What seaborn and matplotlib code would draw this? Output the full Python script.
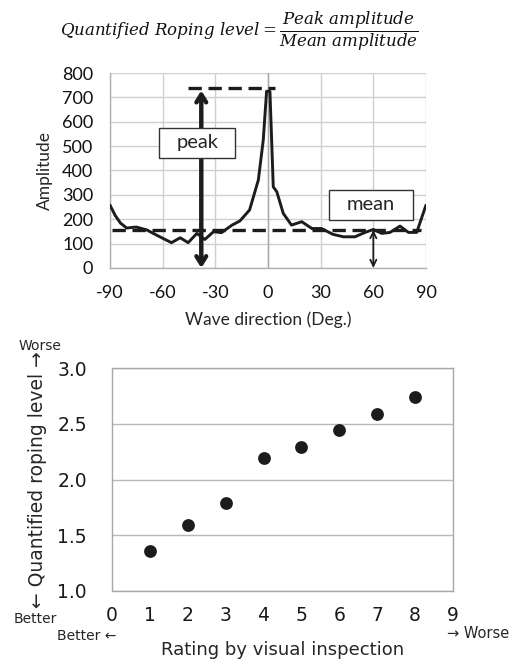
import numpy as np
import pandas as pd
import matplotlib
matplotlib.use("Agg")
import matplotlib.pyplot as plt
from matplotlib.patches import Rectangle
import seaborn as sns

# ---- data: top chart (amplitude vs wave direction) ----
direction = [-90, -87, -84, -80.5, -75, -69, -63.5, -55, -50, -45.5, -40.5, -36,
             -31, -26.5, -20.5, -16, -10.5, -5.5, -2.7, -0.8, 1.1, 3, 5, 8.7,
             13.4, 19.2, 25, 30.5, 37, 43, 49.5, 55.3, 60, 64.8, 69.5, 75.2,
             80, 84.7, 90]
amplitude = [258, 215, 184, 164, 168, 156, 135, 104, 124, 104, 142, 117,
             149, 145, 176, 193, 238, 361, 525, 725, 725, 333, 313, 224,
             176, 190, 162, 162, 138, 128, 128, 146, 158, 142, 146, 172,
             146, 146, 258]
peak_level = 740
mean_level = 156
peak_arrow_x = -38
mean_arrow_x = 60
x_ticks_top = [-90, -60, -30, 0, 30, 60, 90]
y_ticks_top = [0, 100, 200, 300, 400, 500, 600, 700, 800]

# ---- data: bottom chart (rating vs quantified roping level) ----
rating = [1, 2, 3, 4, 5, 6, 7, 8]
roping_level = [1.36, 1.59, 1.79, 2.19, 2.29, 2.44, 2.59, 2.74]
x_ticks_bot = [0, 1, 2, 3, 4, 5, 6, 7, 8, 9]
y_ticks_bot = [1.0, 1.5, 2.0, 2.5, 3.0]

sns.set_style("white")
plt.rcParams['font.family'] = ['DejaVu Sans']
plt.rcParams['mathtext.fontset'] = 'dejavuserif'
plt.rcParams['axes.unicode_minus'] = False

fig = plt.figure(figsize=(5.16, 6.6), dpi=100)
W, H = 516, 660
def rect(l, t, r, b):
    return [l / W, 1 - b / H, (r - l) / W, (b - t) / H]

grid_c = '#cfcfcf'
ink = '#1c1c1c'
topfont = ['Lato', 'DejaVu Sans']

# ================= top chart =================
ax1 = fig.add_axes(rect(110, 73, 426, 268))
df1 = pd.DataFrame({'Wave direction': direction, 'Amplitude': amplitude})
sns.lineplot(data=df1, x='Wave direction', y='Amplitude', ax=ax1,
             color=ink, lw=2.1, zorder=4, sort=False)
ax1.set_xlim(-90, 90)
ax1.set_ylim(0, 800)
ax1.set_xticks(x_ticks_top)
ax1.set_yticks(y_ticks_top)
ax1.grid(True, color=grid_c, lw=1.0)
ax1.axvline(0, color='#a8a8a8', lw=1.0, zorder=1)
for s in ['top', 'right']:
    ax1.spines[s].set_visible(False)
for s in ['left', 'bottom']:
    ax1.spines[s].set_color('#b0b0b0')
    ax1.spines[s].set_linewidth(1.0)
ax1.tick_params(axis='x', length=4, color='#b0b0b0', width=1, pad=8)
ax1.tick_params(axis='y', length=0, pad=12)
for lab in ax1.get_xticklabels() + ax1.get_yticklabels():
    lab.set_fontfamily(topfont)
    lab.set_fontsize(13)
    lab.set_color('#111111')
ax1.set_xlabel('Wave direction (Deg.)', fontsize=12.5, family=topfont, labelpad=8)
ax1.set_ylabel('Amplitude', fontsize=12.5, family=topfont, labelpad=6)
ax1.yaxis.set_label_coords(-0.18, 0.5)

# dashed reference lines
ax1.plot([-45.5, 4], [peak_level, peak_level], color=ink, lw=2.4,
         dashes=(4, 2), zorder=5, clip_on=False)
ax1.plot([-89, 87], [mean_level, mean_level], color=ink, lw=2.4,
         dashes=(4, 2), zorder=5)

# arrows
ax1.annotate('', xy=(peak_arrow_x, peak_level - 12), xytext=(peak_arrow_x, 0),
             arrowprops=dict(arrowstyle='<->,head_length=0.55,head_width=0.35',
                             lw=3.2, color=ink, shrinkA=0, shrinkB=0),
             zorder=6)
ax1.annotate('', xy=(mean_arrow_x, mean_level), xytext=(mean_arrow_x, 0),
             arrowprops=dict(arrowstyle='<->,head_length=0.45,head_width=0.22',
                             lw=1.3, color=ink, shrinkA=0, shrinkB=0),
             zorder=6)

# label boxes
ax1.add_patch(Rectangle((-61.9, 450), 43.1, 123, fc='white', ec='#333333',
                        lw=1.0, zorder=7))
ax1.text(-40.3, 514, 'peak', ha='center', va='center', fontsize=14.5,
         family=topfont, zorder=8)
ax1.add_patch(Rectangle((34.9, 197), 47.5, 123, fc='white', ec='#333333',
                        lw=1.0, zorder=7))
ax1.text(58.6, 260, 'mean', ha='center', va='center', fontsize=14.5,
         family=topfont, zorder=8)

fig.text(239 / W, 1 - 31 / H,
         r'$Quantified\ Roping\ level=\dfrac{Peak\ amplitude}{Mean\ amplitude}$',
         ha='center', va='center', fontsize=12, color='#111111')

# ================= bottom chart =================
ax2 = fig.add_axes(rect(112, 368, 453, 591))
df2 = pd.DataFrame({'Rating': rating, 'Level': roping_level})
sns.scatterplot(data=df2, x='Rating', y='Level', ax=ax2, s=85,
                color=ink, edgecolor=ink, linewidth=0, zorder=4)
ax2.set_xlim(0, 9)
ax2.set_ylim(1.0, 3.0)
ax2.set_xticks(x_ticks_bot)
ax2.set_yticks(y_ticks_bot)
ax2.set_yticklabels([f'{v:.1f}' for v in y_ticks_bot])
ax2.grid(True, axis='y', color='#b8b8b8', lw=1.0)
ax2.grid(False, axis='x')
for s in ax2.spines.values():
    s.set_color('#a8a8a8')
    s.set_linewidth(1.0)
ax2.tick_params(axis='x', length=5, color='#a8a8a8', width=1, labelsize=13.5, pad=6)
ax2.tick_params(axis='y', length=0, labelsize=13.5, pad=18)
for lab in ax2.get_xticklabels() + ax2.get_yticklabels():
    lab.set_color('#1a1a1a')
ax2.set_xlabel('Rating by visual inspection', fontsize=13)
ax2.xaxis.set_label_coords(0.5, -0.225)
ax2.set_ylabel('\u2190 Quantified roping level \u2192', fontsize=13.5)
ax2.yaxis.set_label_coords(-0.19, 0.5)

fig.text(40 / W, 1 - 346 / H, 'Worse', ha='center', va='center', fontsize=10)
fig.text(35 / W, 1 - 619 / H, 'Better', ha='center', va='center', fontsize=10)
fig.text(116 / W, 1 - 636 / H, 'Better \u2190', ha='right', va='center', fontsize=10)
fig.text(447 / W, 1 - 634 / H, '\u2192 Worse', ha='left', va='center', fontsize=10.5)

fig.savefig('out.png', dpi=100)
